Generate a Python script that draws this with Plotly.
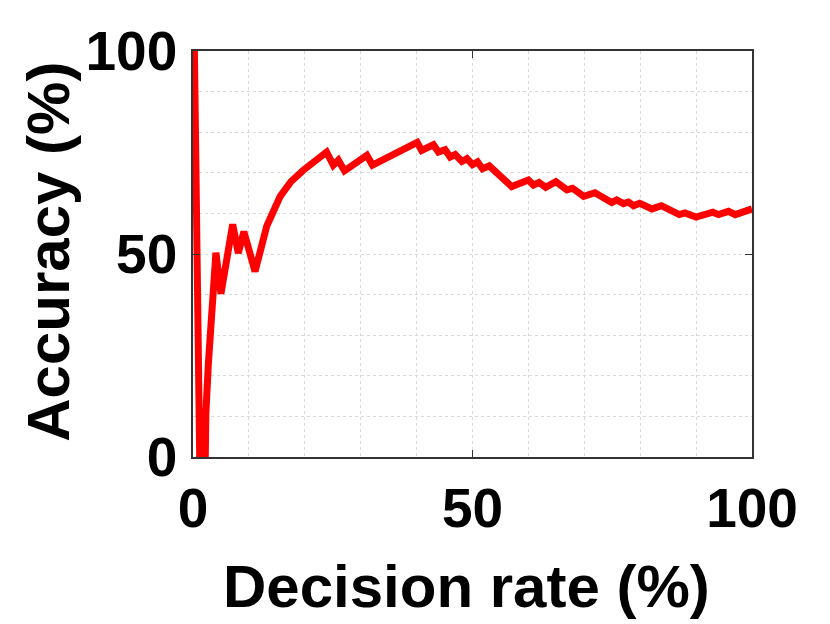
import plotly.graph_objects as go

decision_rate = [0.25, 1.2, 2.2, 2.3, 2.75, 3.5, 4.1, 5.0, 7.1, 8.1, 9.1, 11.1, 13.2, 15.6, 17.5,
                 19.7, 22.0, 23.9, 25.1, 26.0, 27.1, 31.1, 32.1, 40.1, 40.9, 43.0, 43.9, 45.1,
                 46.0, 46.9, 48.1, 49.0, 50.0, 50.9, 51.8, 53.0, 57.0, 60.0, 60.9, 61.9, 63.1,
                 64.9, 66.9, 67.9, 69.9, 71.9, 74.9, 75.8, 77.0, 77.9, 78.8, 79.9, 82.1, 83.8,
                 87.0, 88.0, 90.0, 93.0, 94.0, 95.8, 97.0, 100.0]
accuracy = [100, 0, 0, 10.7, 23, 39, 50.3, 40.2, 57.3, 50.2, 55.5, 45.7, 56.9, 64.2, 67.8,
            70.6, 73.3, 75.1, 71.9, 73.1, 70.5, 74.3, 71.9, 77.5, 75.5, 76.9, 75.1, 75.7,
            73.9, 74.5, 72.8, 73.5, 72.0, 72.7, 71.0, 71.7, 66.6, 68.2, 67.0, 67.6, 66.4,
            67.8, 65.8, 66.2, 64.2, 65.1, 62.7, 63.3, 62.4, 62.8, 61.9, 62.5, 61.1, 61.9,
            59.7, 60.1, 59.1, 60.3, 59.7, 60.5, 59.7, 61.1]

tick_vals = [0, 50, 100]
tick_text = ["0", "50", "100"]

fig = go.Figure()
fig.add_trace(go.Scatter(x=decision_rate, y=accuracy, mode="lines",
                         line=dict(color="#ff0000", width=7), showlegend=False))

grid = dict(gridcolor="#d9d9d9", griddash="dot", gridwidth=1)
axis_common = dict(
    range=[0, 100], tickvals=tick_vals, ticktext=tick_text,
    ticks="inside", ticklen=7, tickcolor="#333333", tickwidth=1.2,
    showline=True, linecolor="#333333", linewidth=1.5, mirror="ticks",
    showgrid=True, zeroline=False,
    minor=dict(dtick=10, showgrid=True, ticks="", **grid),
    tickfont=dict(family="Liberation Sans", size=55, color="black", weight="bold"),
    **grid,
)

fig.update_xaxes(**axis_common, ticklabelstandoff=2)
fig.update_yaxes(**axis_common, ticklabelstandoff=3)

title_font = dict(family="Liberation Sans", size=60, color="black", weight="bold")
fig.add_annotation(text="Decision rate (%)", xref="paper", yref="paper",
                   x=0.489, y=-0.32, xanchor="center", yanchor="middle",
                   showarrow=False, font=title_font)
fig.add_annotation(text="Accuracy (%)", xref="paper", yref="paper",
                   x=-0.258, y=0.505, xanchor="center", yanchor="middle", textangle=-90,
                   showarrow=False, font=title_font)

fig.update_layout(width=830, height=624, margin=dict(l=185, r=86, t=38, b=175),
                  plot_bgcolor="white", paper_bgcolor="white")

fig.write_html("out.html")
